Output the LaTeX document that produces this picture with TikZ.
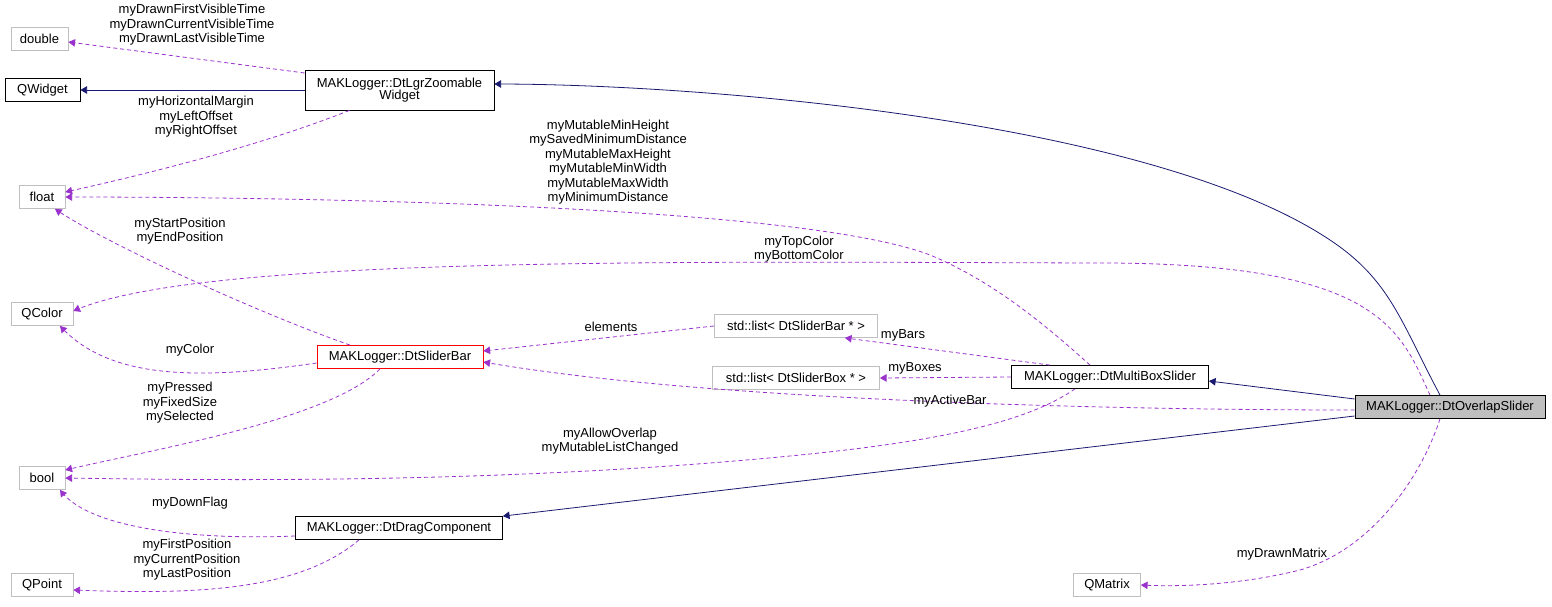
\documentclass[tikz,border=0pt]{standalone}
\usepackage{fontspec}
\setmainfont{Liberation Sans}
\usetikzlibrary{shapes,arrows}
\usetikzlibrary{calc}
\definecolor{navy}{RGB}{25,25,112}
\definecolor{orchid}{RGB}{154,50,205}
\definecolor{boxgray}{RGB}{191,191,191}

\begin{document}
\begin{tikzpicture}[x=1pt,y=-1pt,font=\fontsize{13}{14.5}\selectfont]

\tikzstyle{cls} = [draw=black,line width=0.8,inner sep=1,minimum height=23,align=center]
\tikzstyle{ext} = [draw=boxgray,line width=0.8,inner sep=1,minimum height=23]
\tikzstyle{inherit} = [-triangle 60,draw=navy,line width=0.8]
\tikzstyle{usage} = [-triangle 60,draw=orchid,line width=0.8,dash pattern=on 4pt off 3pt]
\tikzstyle{lbl} = [align=center,inner sep=0]

\useasboundingbox (0,0) rectangle (1552,607);

\node [ext, minimum width=57] (double) at (39.5,39) {double};
\node [cls, minimum width=75] (qwidget) at (42.5,90) {QWidget};
\node [cls, minimum width=189, minimum height=40] (zoom) at (399.5,90) {MAKLogger::DtLgrZoomable\\[-2pt]Widget};
\node [ext, minimum width=46] (float) at (42,197) {float};
\node [ext, minimum width=62] (qcolor) at (42,314) {QColor};
\node [cls, draw=red, minimum width=166] (bar) at (400,357) {MAKLogger::DtSliderBar};
\node [ext, minimum width=163] (lbar) at (796,326) {std::list< DtSliderBar * >};
\node [ext, minimum width=167] (lbox) at (796,378) {std::list< DtSliderBox * >};
\node [cls, minimum width=197] (multi) at (1110,377) {MAKLogger::DtMultiBoxSlider};
\node [cls, fill=boxgray, minimum width=190] (ovl) at (1450,407) {MAKLogger::DtOverlapSlider};
\node [ext, minimum width=46] (bool) at (42,478) {bool};
\node [cls, minimum width=207] (drag) at (399,528) {MAKLogger::DtDragComponent};
\node [ext, minimum width=62] (qpoint) at (42,585) {QPoint};
\node [ext, minimum width=67] (qmatrix) at (1107,585) {QMatrix};

% inheritance
\draw [inherit] ([xshift=-10]ovl.north) .. controls (1400,320) and (1390,280) .. (1330,240)
  .. controls (1150,120) and (700,84) .. ([yshift=6]zoom.east);
\draw [inherit] (zoom.west) -- (qwidget.east);
\draw [inherit] ([yshift=8]ovl.west) -- ([yshift=-4]multi.east);
\draw [inherit] ([yshift=-9]ovl.west) -- (drag.north east);

% members
\draw [usage] ([yshift=17]zoom.west) -- ([yshift=-3]double.east);
\node [lbl] (l1) at (192,25) {myDrawnFirstVisibleTime\\myDrawnCurrentVisibleTime\\myDrawnLastVisibleTime};
\draw [usage] ([xshift=-50]zoom.south) .. controls (250,150) and (120,180) .. ([yshift=5]float.east);
\node [lbl] (l2) at (196,117) {myHorizontalMargin\\myLeftOffset\\myRightOffset};
\draw [usage] ([xshift=-20]multi.north) .. controls (1040,320) and (990,280) .. (930,255)
  .. controls (800,205) and (300,197) .. (float.east);
\node [lbl] (l3) at (608,162) {myMutableMinHeight\\mySavedMinimumDistance\\myMutableMaxHeight\\myMutableMinWidth\\myMutableMaxWidth\\myMinimumDistance};
\draw [usage] ([xshift=-50]bar.north) .. controls (250,310) and (100,240) .. ([xshift=13]float.south);
\node [lbl] (l4) at (180,231) {myStartPosition\\myEndPosition};
\draw [usage] ([xshift=-20]ovl.north) .. controls (1400,330) and (1380,263) .. (1100,263)
  .. controls (700,262) and (200,255) .. ([yshift=3]qcolor.east);
\node [lbl] (l5) at (799,249) {myTopColor\\myBottomColor};
\draw [usage] ([yshift=-6]bar.west) .. controls (200,380) and (110,380) .. ([xshift=18]qcolor.south);
\node [lbl] (l6) at (190,350) {myColor};
\draw [usage] (lbar.west) -- ([yshift=6]bar.east);
\node [lbl] (l7) at (611,327) {elements};
\draw [usage] ([xshift=-60]multi.north) -- ([xshift=-33]lbar.south east);
\node [lbl] (l8) at (903,335) {myBars};
\draw [usage] (multi.west) -- (lbox.east);
\node [lbl] (l9) at (915,368) {myBoxes};
\draw [usage] ([yshift=-3]ovl.west) .. controls (1100,410) and (700,400) .. ([yshift=-5]bar.east);
\node [lbl] (l10) at (950,401) {myActiveBar};
\draw [usage] ([xshift=-20]bar.south) .. controls (330,420) and (150,450) .. ([yshift=8]bool.east);
\node [lbl] (l11) at (180,403) {myPressed\\myFixedSize\\mySelected};
\draw [usage] ([xshift=-35]multi.south) .. controls (1030,420) and (950,440) .. (800,455)
  .. controls (500,485) and (200,480) .. (bool.east);
\node [lbl] (l12) at (610,441) {myAllowOverlap\\myMutableListChanged};
\draw [usage] ([yshift=-8]drag.west) .. controls (200,540) and (90,530) .. ([xshift=18]bool.south);
\node [lbl] (l13) at (190,503) {myDownFlag};
\draw [usage] ([xshift=-40]drag.south) .. controls (300,590) and (200,595) .. ([yshift=-5]qpoint.east);
\node [lbl] (l14) at (187,560) {myFirstPosition\\myCurrentPosition\\myLastPosition};
\draw [usage] ([xshift=-10]ovl.south) .. controls (1420,480) and (1370,550) .. (1300,570)
  .. controls (1240,585) and (1180,587) .. (qmatrix.east);
\node [lbl] (l15) at (1282,554) {myDrawnMatrix};

\end{tikzpicture}
\end{document}
